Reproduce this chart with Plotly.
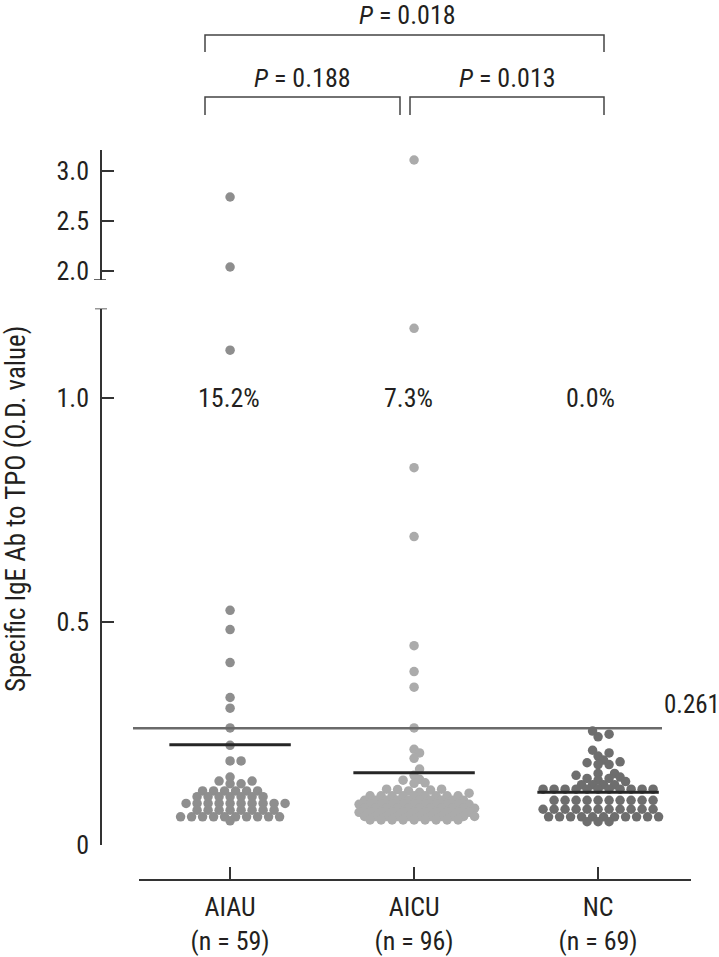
import plotly.graph_objects as go

W, H = 719, 957

# ---------------- data ----------------
groups = ["AIAU", "AICU", "NC"]
group_n = [59, 96, 69]
group_colors = ["#8e8e8e", "#ababab", "#6e6e6e"]
pct_labels = ["15.2%", "7.3%", "0.0%"]
cutoff = 0.261
p_labels = ["0.188", "0.013", "0.018"]   # AIAU-AICU, AICU-NC, AIAU-NC

aiau = [2.74, 2.04, 1.107, 0.525, 0.482, 0.408, 0.330, 0.306, 0.262,
        0.223, 0.188, 0.188, 0.152, 0.143, 0.143, 0.137, 0.137,
        0.121, 0.121, 0.121, 0.121, 0.121, 0.121,
        0.108, 0.108, 0.108, 0.108, 0.108, 0.108, 0.108,
        0.093, 0.093, 0.093, 0.093, 0.093, 0.093, 0.093, 0.093, 0.093, 0.093,
        0.078, 0.078, 0.078, 0.078, 0.078, 0.078, 0.078, 0.078,
        0.063, 0.063, 0.063, 0.063, 0.063, 0.063, 0.063, 0.063, 0.063, 0.063,
        0.054]

aicu = [3.11, 1.156, 0.844, 0.690, 0.446, 0.388, 0.353, 0.262,
        0.214, 0.206, 0.194, 0.170, 0.156, 0.147, 0.145, 0.139, 0.138,
        0.125, 0.125, 0.124, 0.123, 0.121, 0.118, 0.116,
        0.110, 0.110, 0.110, 0.110, 0.110, 0.110, 0.110, 0.110, 0.110,
        0.100, 0.100, 0.100, 0.100, 0.100, 0.100, 0.100, 0.100, 0.100, 0.100,
        0.091, 0.091, 0.091, 0.091, 0.091, 0.091, 0.091, 0.091, 0.091, 0.091, 0.091,
        0.082, 0.082, 0.082, 0.082, 0.082, 0.082, 0.082, 0.082, 0.082, 0.082, 0.082,
        0.073, 0.073, 0.073, 0.073, 0.073, 0.073, 0.073, 0.073, 0.073, 0.073, 0.073,
        0.064, 0.064, 0.064, 0.064, 0.064, 0.064, 0.064, 0.064, 0.064, 0.064, 0.064,
        0.056, 0.056, 0.056, 0.056, 0.056, 0.056, 0.056, 0.056, 0.056]

nc = [0.255, 0.248, 0.242, 0.212, 0.206, 0.199, 0.190, 0.186, 0.184, 0.180, 0.180,
      0.160, 0.160, 0.156, 0.152, 0.149, 0.149, 0.145, 0.142,
      0.135, 0.135, 0.135, 0.135,
      0.125, 0.125, 0.125, 0.125, 0.125, 0.125, 0.125, 0.125, 0.125, 0.125, 0.125,
      0.100, 0.100, 0.100, 0.100, 0.100, 0.100, 0.100, 0.100, 0.100, 0.100,
      0.080, 0.080, 0.080, 0.080, 0.080, 0.080, 0.080, 0.080, 0.080, 0.080, 0.080,
      0.063, 0.063, 0.063, 0.063, 0.063, 0.063, 0.063, 0.063, 0.063, 0.063, 0.063,
      0.052, 0.052, 0.052]

group_values = [aiau, aicu, nc]

# ---------------- geometry (pixels -> paper) ----------------
def px(x):
    return x / W

def py(y):
    return 1 - y / H

X_RANGE = [0.505, 3.505]
LOW_RANGE = [0, 1.2]
UP_RANGE = [1.91, 3.21]
x_dom = [px(139), px(691)]
low_dom = [py(845), py(308.6)]
up_dom = [py(280), py(150)]
XPX = (691 - 139) / (X_RANGE[1] - X_RANGE[0])
YPX = (845 - 308.6) / (LOW_RANGE[1] - LOW_RANGE[0])

FONT = "Liberation Sans Narrow, Arial Narrow, Roboto Condensed, DejaVu Sans Condensed, sans-serif"
FS = 26
TXT = "#231f20"


def swarm(values, xc, step=11.0, dmin=6.5):
    """Prism-like dot layout: place points bottom-up on a half-step lattice."""
    xs = [xc] * len(values)
    placed = []
    order = sorted(range(len(values)), key=lambda i: values[i])
    cands = [0.0]
    for m in range(1, 60):
        cands += [m * step / 2, -m * step / 2]
    for i in order:
        v = values[i]
        if v > LOW_RANGE[1]:
            continue
        y = v * YPX
        for c in cands:
            if all((c - a) ** 2 + (y - b) ** 2 >= dmin ** 2 for a, b in placed):
                placed.append((c, y))
                xs[i] = xc + c / XPX
                break
    return xs


fig = go.Figure()
for gi, (name, vals, col) in enumerate(zip(groups, group_values, group_colors)):
    xc = gi + 1
    xs = swarm(vals, xc)
    lo = [(x, v) for x, v in zip(xs, vals) if v <= LOW_RANGE[1]]
    hi = [(x, v) for x, v in zip(xs, vals) if v > LOW_RANGE[1]]
    mk = dict(size=9.5, color=col, line=dict(width=0))
    fig.add_trace(go.Scatter(x=[p[0] for p in lo], y=[p[1] for p in lo], mode="markers",
                             marker=mk, xaxis="x", yaxis="y", showlegend=False, name=name,
                             cliponaxis=False))
    fig.add_trace(go.Scatter(x=[p[0] for p in hi], y=[p[1] for p in hi], mode="markers",
                             marker=mk, xaxis="x", yaxis="y2", showlegend=False, name=name,
                             cliponaxis=False))
    mean = sum(vals) / len(vals)
    fig.add_shape(type="line", xref="x", yref="y", x0=xc - 0.33, x1=xc + 0.33, y0=mean, y1=mean,
                  line=dict(color="#262626", width=3))

# cut-off line
fig.add_shape(type="line", xref="paper", yref="y", x0=px(133), x1=px(662), y0=cutoff, y1=cutoff,
              line=dict(color="#6a6a6a", width=2.5))

annotations = []
annotations.append(dict(x=px(662), y=cutoff, xref="paper", yref="y", text=f"{cutoff:.3f}",
                        showarrow=False, xanchor="left", yanchor="middle", yshift=24,
                        font=dict(size=25, color=TXT, family=FONT)))
for gi, t in enumerate(pct_labels):
    annotations.append(dict(x=gi + 1, y=1.0, xref="x", yref="y", text=t, showarrow=False,
                            xshift=[-1, -6, -8][gi], xanchor="center", yanchor="middle",
                            font=dict(size=FS, color=TXT, family=FONT)))

# y-axis title
annotations.append(dict(x=px(16), y=py(509), xref="paper", yref="paper",
                        text="Specific IgE Ab to TPO (O.D. value)", textangle=-90,
                        showarrow=False, xanchor="center", yanchor="middle",
                        font=dict(size=27, color=TXT, family=FONT)))

# significance brackets
brackets = [((205, 400), 97, 115, (302, 78), p_labels[0]),
            ((410, 604), 97, 115, (507, 78), p_labels[1]),
            ((205, 604), 35, 52, (407, 15), p_labels[2])]
for (xa, xb), ytop, ybot, (tx, ty), lab in brackets:
    fig.add_shape(type="path", xref="paper", yref="paper",
                  path=f"M {px(xa)},{py(ybot)} L {px(xa)},{py(ytop)} L {px(xb)},{py(ytop)} L {px(xb)},{py(ybot)}",
                  line=dict(color="#444444", width=1.5))
    annotations.append(dict(x=px(tx), y=py(ty), xref="paper", yref="paper",
                            text=f"<i>P</i> = {lab}", showarrow=False,
                            xanchor="center", yanchor="middle",
                            font=dict(size=FS, color=TXT, family=FONT)))

# axis-break caps
fig.add_shape(type="line", xref="paper", yref="y", x0=px(95), x1=px(107), y0=LOW_RANGE[1], y1=LOW_RANGE[1],
              line=dict(color="#333333", width=1.5))
fig.add_shape(type="line", xref="paper", yref="y2", x0=px(94), x1=px(106), y0=UP_RANGE[0], y1=UP_RANGE[0],
              line=dict(color="#333333", width=1.5))

axis_common = dict(showgrid=False, zeroline=False, showline=True, linecolor="#333333", linewidth=1.5,
                   ticks="inside", ticklen=12, tickwidth=1.5, tickcolor="#333333", automargin=False,
                   tickfont=dict(size=FS, color=TXT, family=FONT))

fig.update_layout(
    template="none",
    width=W, height=H, margin=dict(l=0, r=0, t=0, b=0, pad=0, autoexpand=False),
    plot_bgcolor="white", paper_bgcolor="white",
    xaxis=dict(domain=x_dom, range=X_RANGE, anchor="free", position=py(880),
               tickvals=[1, 2, 3],
               ticktext=[f"{g}<br>(n = {n})" for g, n in zip(groups, group_n)],
               ticklabelstandoff=4, **axis_common),
    yaxis=dict(domain=low_dom, range=LOW_RANGE, anchor="free", position=px(101),
               tickvals=[0, 0.5, 1.0], ticktext=["0", "0.5", "1.0"], ticklabelstandoff=6,
               **axis_common),
    yaxis2=dict(domain=up_dom, range=UP_RANGE, anchor="free", position=px(101),
                tickvals=[2.0, 2.5, 3.0], ticktext=["2.0", "2.5", "3.0"], ticklabelstandoff=6,
                **axis_common),
    annotations=annotations,
    showlegend=False,
)

fig.write_html(
    "out.html",
    config={"displayModeBar": False, "responsive": False},
    post_script=("document.documentElement.style.margin='0';"
                 "document.body.style.margin='0';document.body.style.padding='0';"
                 "document.documentElement.style.overflow='hidden';"
                 "document.body.style.overflow='hidden';"),
)
